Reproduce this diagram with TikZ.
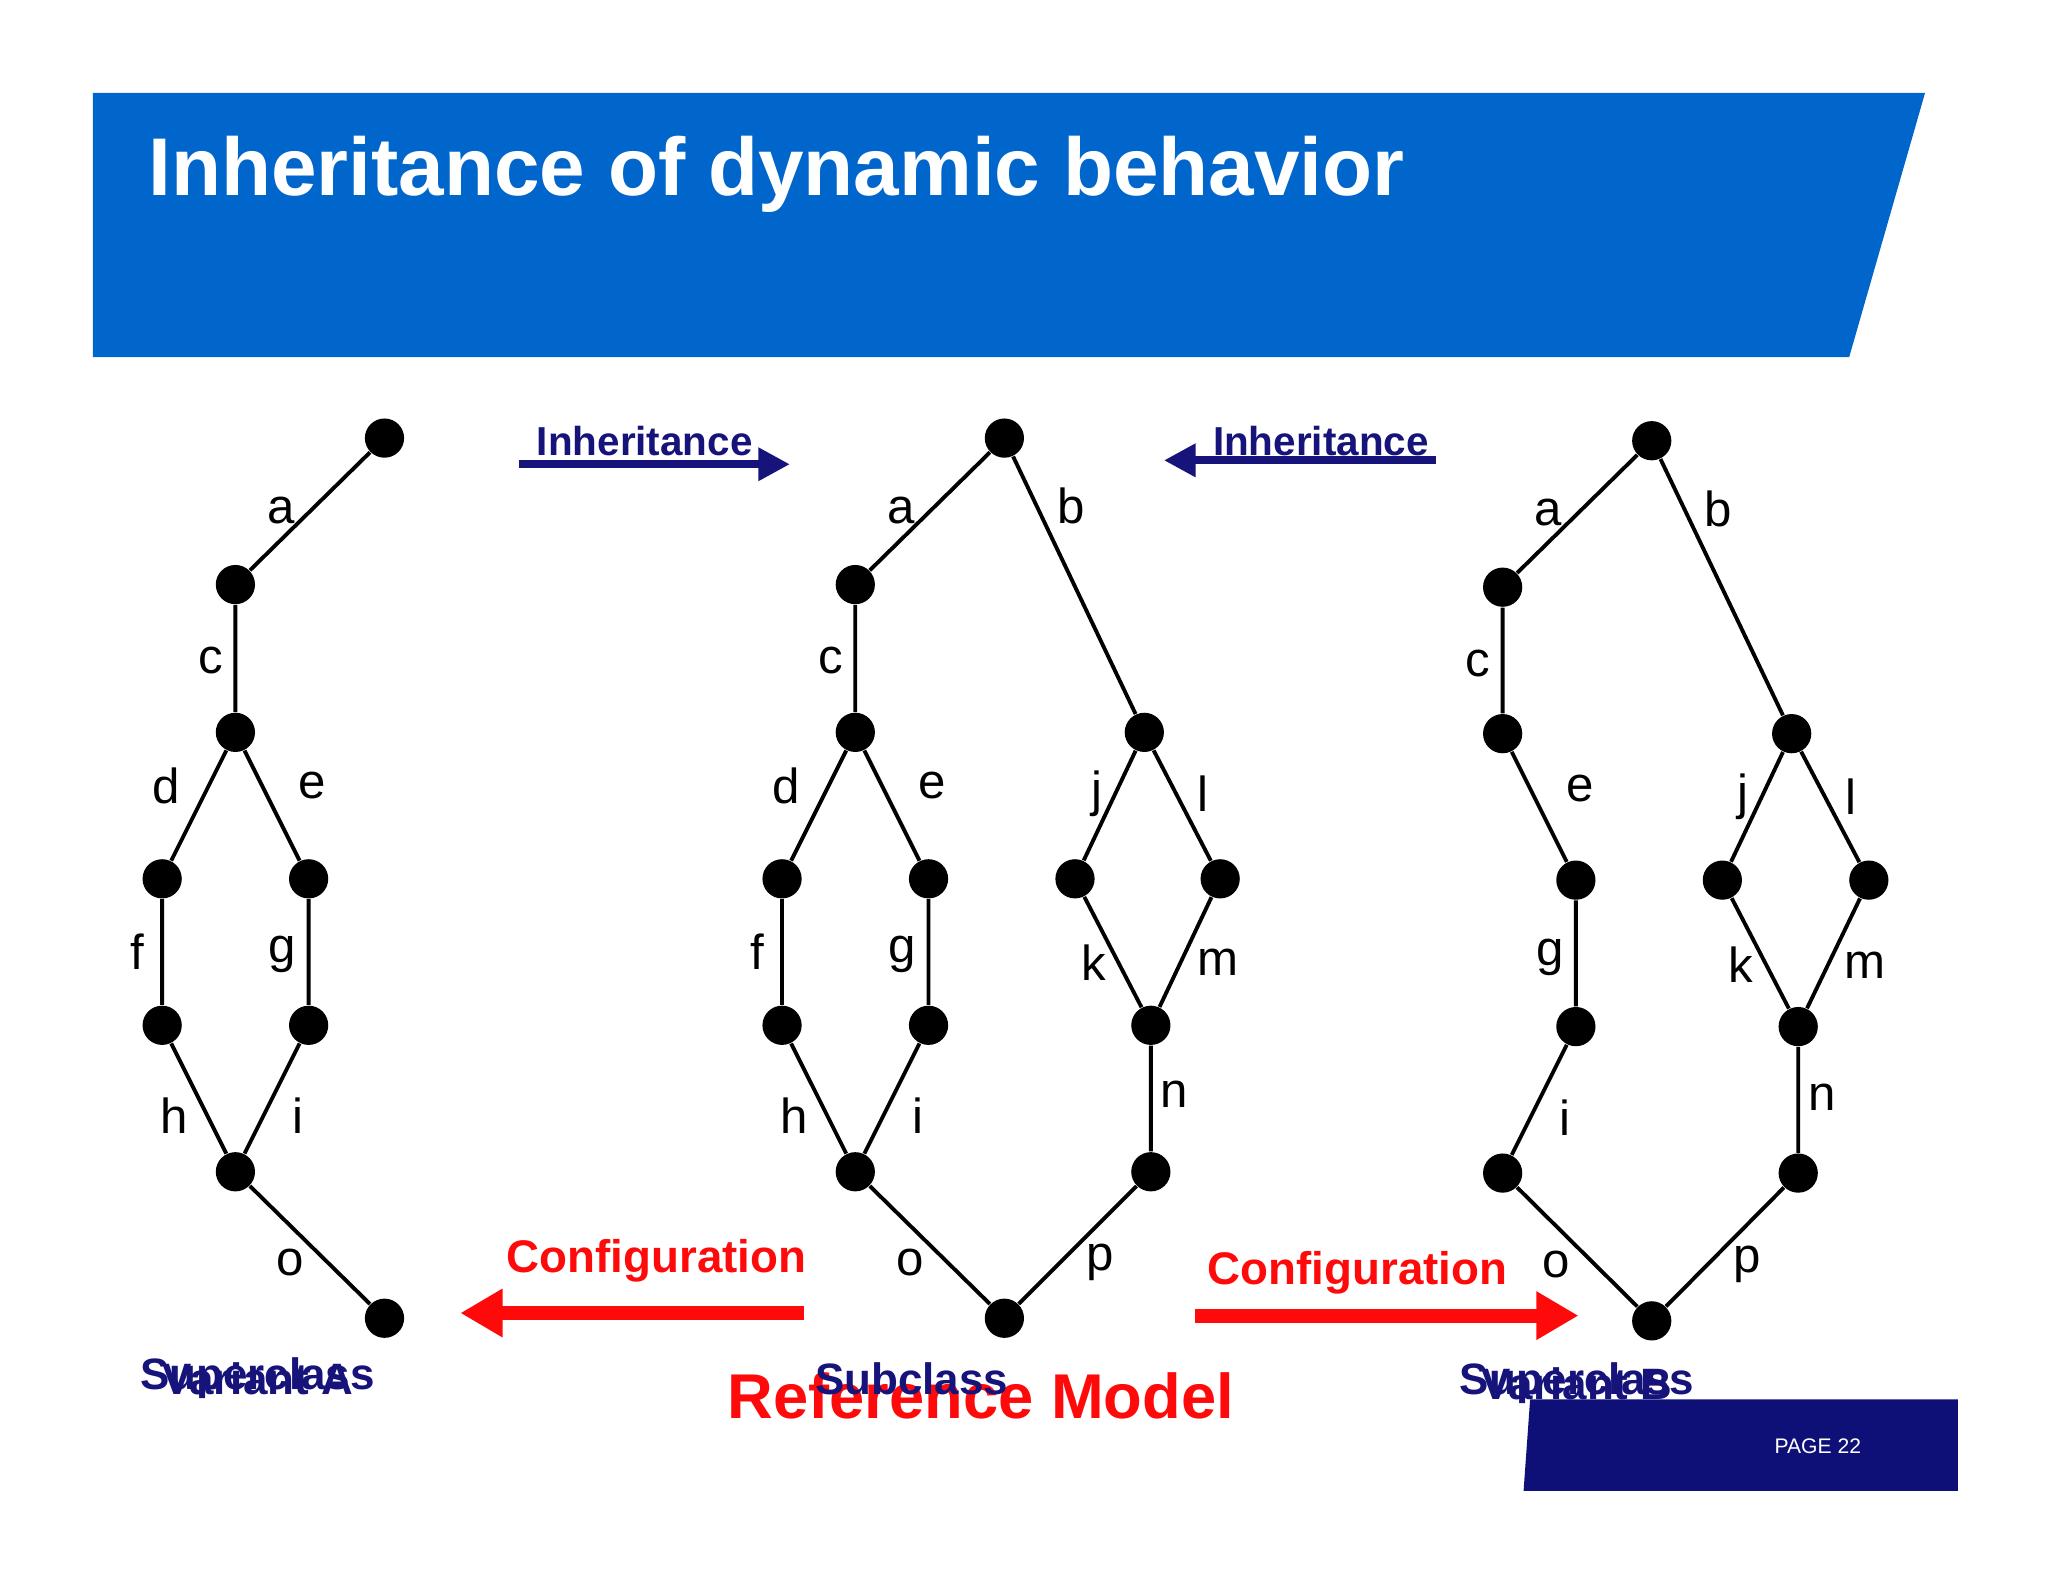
\documentclass[tikz,border=0pt]{standalone}
\usepackage{fontspec}
\setmainfont{Liberation Sans}
\usetikzlibrary{arrows.meta}
\definecolor{banner}{HTML}{0066CC}
\definecolor{navy}{HTML}{16137A}
\definecolor{foot}{HTML}{0F0F78}
\definecolor{cfg}{HTML}{FF0A0A}
\begin{document}
\begin{tikzpicture}[x=0.013078cm,y=-0.013078cm,
  v/.style={circle,fill=black,inner sep=0pt,minimum size=30*0.013078cm},
  e/.style={line width=1.1pt},
  lb/.style={font=\fontsize{14}{14}\selectfont},
  inh/.style={navy,line width=2.2pt,-{Triangle[length=9pt,width=9pt]}},
  inht/.style={navy,font=\fontsize{11.5}{12}\selectfont\bfseries},
  cf/.style={cfg,line width=4pt,-{Triangle[length=12pt,width=13pt]}},
  cft/.style={cfg,font=\fontsize{13}{13}\selectfont\bfseries},
  cls/.style={navy,font=\fontsize{12.5}{13}\selectfont\bfseries}]
\useasboundingbox (0,0) rectangle (1566,1210);
% banner
\fill[banner] (71,71) -- (1472,71) -- (1414,273) -- (71,273) -- cycle;
\node[white,anchor=west,font=\fontsize{23.3}{24}\selectfont\bfseries] (title) at (104,133) {Inheritance of dynamic behavior};
% footer
\fill[foot] (1170,1070) -- (1497,1070) -- (1497,1140) -- (1165,1140) -- cycle;
\node[white,font=\fontsize{6}{6}\selectfont] (page) at (1390,1106) {PAGE 22};

% left graph (Superclass / Variant A)
\node[v] (L1) at (294,335) {}; \node[v] (L2) at (180,447) {};
\node[v] (L3) at (180,560) {}; \node[v] (L4) at (124,672) {};
\node[v] (L5) at (236,672) {}; \node[v] (L6) at (124,784) {};
\node[v] (L7) at (236,784) {}; \node[v] (L8) at (180,896) {};
\node[v] (L9) at (294,1008) {};
\draw[e] (L1)--(L2) (L2)--(L3) (L3)--(L4) (L3)--(L5) (L4)--(L6) (L5)--(L7) (L6)--(L8) (L7)--(L8) (L8)--(L9);
\node[lb] at (215,390) {a}; \node[lb] at (161,505) {c};
\node[lb] at (127,601) {d}; \node[lb] at (239,601) {e};
\node[lb] at (105,728) {f}; \node[lb] at (216,730) {g};
\node[lb] at (133,853) {h}; \node[lb] at (228,853) {i};
\node[lb] at (222,965) {o};

% middle graph
\node[v] (M1) at (768,335) {}; \node[v] (M2) at (654,447) {};
\node[v] (M3) at (654,560) {}; \node[v] (M4) at (598,672) {};
\node[v] (M5) at (710,672) {}; \node[v] (M6) at (598,784) {};
\node[v] (M7) at (710,784) {}; \node[v] (M8) at (654,896) {};
\node[v] (M9) at (768,1008) {};
\node[v] (M10) at (875,560) {}; \node[v] (M11) at (822,672) {};
\node[v] (M12) at (933,672) {}; \node[v] (M13) at (880,784) {};
\node[v] (M14) at (880,896) {};
\draw[e] (M1)--(M2) (M2)--(M3) (M3)--(M4) (M3)--(M5) (M4)--(M6) (M5)--(M7) (M6)--(M8) (M7)--(M8) (M8)--(M9)
  (M1)--(M10) (M10)--(M11) (M10)--(M12) (M11)--(M13) (M12)--(M13) (M13)--(M14) (M14)--(M9);
\node[lb] at (689,390) {a}; \node[lb] at (635,505) {c};
\node[lb] at (601,601) {d}; \node[lb] at (713,601) {e};
\node[lb] at (579,728) {f}; \node[lb] at (690,730) {g};
\node[lb] at (607,853) {h}; \node[lb] at (702,853) {i};
\node[lb] at (696,965) {o}; \node[lb] at (819,387) {b};
\node[lb] at (839,607) {j}; \node[lb] at (920,607) {l};
\node[lb] at (836,736) {k}; \node[lb] at (931,736) {m};
\node[lb] at (898,837) {n}; \node[lb] at (841,965) {p};

% right graph
\node[v] (R1) at (1263,337) {}; \node[v] (R2) at (1149,449) {};
\node[v] (R3) at (1149,561) {}; \node[v] (R5) at (1205,673) {};
\node[v] (R7) at (1205,785) {}; \node[v] (R8) at (1149,897) {};
\node[v] (R9) at (1263,1010) {};
\node[v] (R10) at (1370,561) {}; \node[v] (R11) at (1317,673) {};
\node[v] (R12) at (1429,673) {}; \node[v] (R13) at (1375,785) {};
\node[v] (R14) at (1375,897) {};
\draw[e] (R1)--(R2) (R2)--(R3) (R3)--(R5) (R5)--(R7) (R7)--(R8) (R8)--(R9)
  (R1)--(R10) (R10)--(R11) (R10)--(R12) (R11)--(R13) (R12)--(R13) (R13)--(R14) (R14)--(R9);
\node[lb] at (1184,392) {a}; \node[lb] at (1130,507) {c};
\node[lb] at (1208,603) {e}; \node[lb] at (1185,732) {g};
\node[lb] at (1197,855) {i}; \node[lb] at (1190,967) {o};
\node[lb] at (1314,389) {b};
\node[lb] at (1333,609) {j}; \node[lb] at (1415,609) {l};
\node[lb] at (1331,738) {k}; \node[lb] at (1426,738) {m};
\node[lb] at (1393,839) {n}; \node[lb] at (1336,967) {p};

% inheritance arrows
\coordinate (ia1) at (397,355); \coordinate (ia2) at (604,355);
\draw[inh] (ia1) -- (ia2);
\node[inht] (it1) at (493,337) {Inheritance};
\coordinate (ib1) at (1098,352); \coordinate (ib2) at (890,352);
\draw[inh] (ib1) -- (ib2);
\node[inht] (it2) at (1010,337) {Inheritance};

% configuration arrows
\coordinate (ca1) at (615,1004); \coordinate (ca2) at (352,1004);
\draw[cf] (ca1) -- (ca2);
\node[cft] (ct1) at (502,964) {Configuration};
\coordinate (cb1) at (914,1006); \coordinate (cb2) at (1207,1006);
\draw[cf] (cb1) -- (cb2);
\node[cft] (ct2) at (1038,973) {Configuration};

% class labels
\node[cls] (s1) at (197,1054) {Superclass};
\node[cls] (s2) at (197,1054) {Variant A};
\node[cfg,font=\fontsize{18}{18}\selectfont\bfseries] (rm) at (750,1067) {Reference Model};
\node[cls] (s3) at (697,1054) {Subclass};
\node[cls] (s4) at (1206,1058) {Superclass};
\node[cls] (s5) at (1206,1058) {Variant B};
\end{tikzpicture}
\end{document}
